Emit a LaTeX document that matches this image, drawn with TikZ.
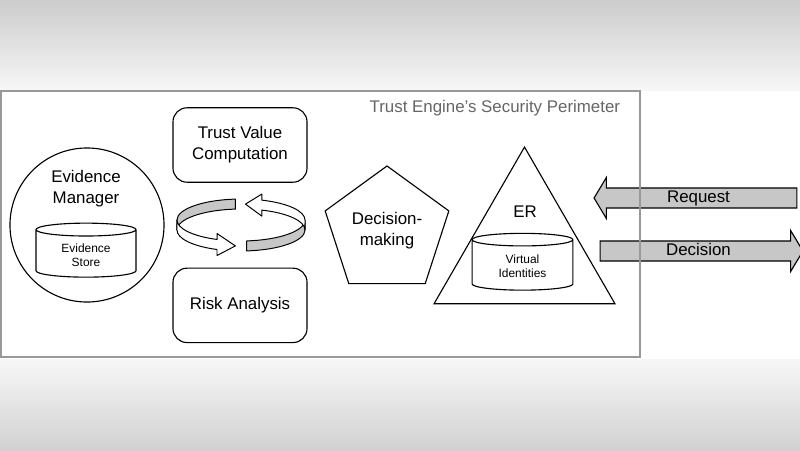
\documentclass[tikz,border=0pt]{standalone}
\usepackage{fontspec}
\setmainfont{Liberation Sans}
\usetikzlibrary{positioning,shapes.geometric,shapes.arrows}
\tikzset{
 outline/.style={draw,line width=0.8pt},
 txt/.style={align=center,font=\fontsize{12}{15}\selectfont},
 roundbox/.style={outline,rounded corners=10pt,align=center,minimum height=1.86cm,
             minimum width=3.35cm,font=\fontsize{12}{15}\selectfont},
 store/.style={outline,cylinder,shape border rotate=90,aspect=0.22,align=center,
             font=\fontsize{8.5}{10}\selectfont},
 flow/.style={single arrow,draw,line width=0.8pt,fill=black!22,minimum height=5.07cm,
             single arrow head extend=7.4pt,single arrow tip angle=118,inner ysep=1pt,
             text height=9pt,text depth=2.5pt,font=\fontsize{12}{14}\selectfont},
 band/.style={draw,line width=0.7pt,line join=round}
}

\begin{document}
\begin{tikzpicture}[x=0.025cm,y=0.025cm]
\useasboundingbox (0,0) rectangle (800,450);
% backdrop
\shade[top color=black!20,bottom color=black!3] (0,359) rectangle (800,450);
\shade[top color=black!3,bottom color=black!18] (0,0) rectangle (800,91);
\fill[white] (0,91) rectangle (800,359);

% evidence manager
\node[outline,circle,minimum size=3.85cm] (manager) at (87,225) {};
\node[txt] (managertext) at (86,261) {Evidence\\Manager};
\node[store,minimum width=2.5cm,minimum height=1.35cm] (evstore) at (86,195) {Evidence\\Store};

% trust value / risk
\node[roundbox] (trust) at (240,305) {Trust Value\\Computation};
\node[roundbox,below=2.12cm of trust] (risk) {Risk Analysis};

% circular arrows
\draw[band,fill=black!22] (235.4,250.9) arc[start angle=95,end angle=180,x radius=64,y radius=21]
  -- ++(0,-10) arc[start angle=180,end angle=95,x radius=64,y radius=21] -- cycle;
\draw[band,fill=black!22] (246.6,209.1) arc[start angle=275,end angle=360,x radius=64,y radius=21]
  -- ++(0,-10) arc[start angle=360,end angle=275,x radius=64,y radius=21] -- cycle;
\draw[band,fill=white] (177,230) arc[start angle=180,end angle=248,x radius=64,y radius=21]
  -- (217,216.5) -- (235.4,204.1) -- (217,194.5) -- (217,200.5)
  arc[start angle=248,end angle=180,x radius=64,y radius=21] -- cycle;
\draw[band,fill=white] (305,230) arc[start angle=360,end angle=431,x radius=64,y radius=21]
  -- (261.8,255.9) -- (245.5,245.9) -- (261.8,233.9) -- (261.8,239.9)
  arc[start angle=431,end angle=360,x radius=64,y radius=21] -- cycle;

% decision making
\node[outline,regular polygon,regular polygon sides=5,minimum size=3.25cm,inner sep=0pt,txt]
  (decide) at (387,219) {Decision-\\making};

% ER
\node[outline,regular polygon,regular polygon sides=3,minimum size=5.22cm] (er) at (524.5,198.5) {};
\node[txt] (ertext) at (525,238) {ER};
\node[store,minimum width=2.52cm,minimum height=1.42cm] (virtual) at (522.5,183.5) {Virtual\\Identities};

% request / decision
\node[flow,shape border rotate=180] (request) at (698.5,252) {Request};
\node[flow] (decision) at (698.5,199) {Decision};

% perimeter
\draw[black!40,line width=1pt] (1,93) rectangle (640,359);
\node[txt,text=black!60,anchor=east] (perimeter) at (625,342) {Trust Engine's Security Perimeter};
\end{tikzpicture}
\end{document}
